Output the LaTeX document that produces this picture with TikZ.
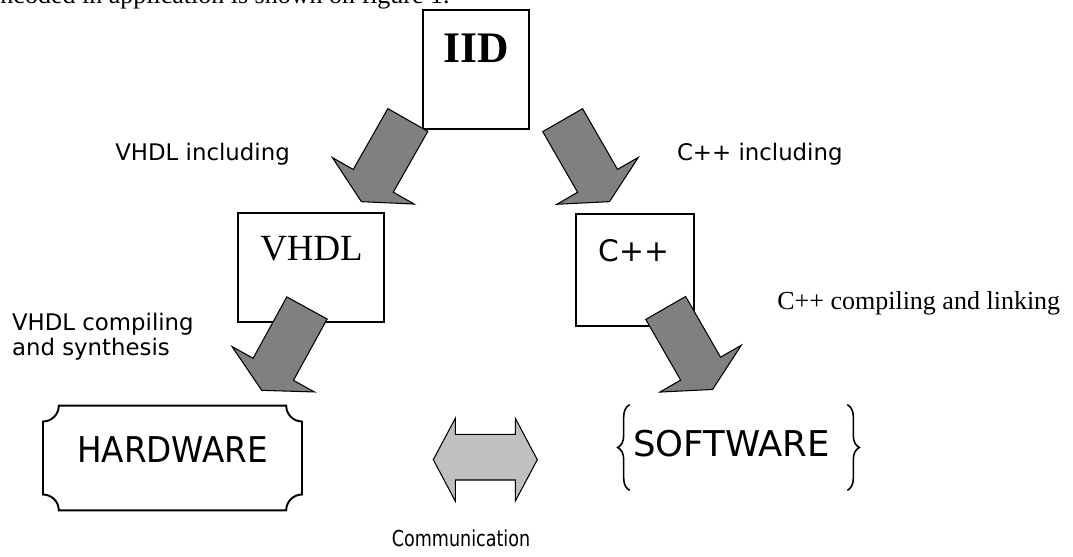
\documentclass[tikz,border=0pt]{standalone}
\usepackage{fontspec}
\setmainfont{Liberation Serif}
\newfontfamily\labelfont{DejaVu Sans}
\newfontfamily\plaquefont[FakeStretch=0.92]{DejaVu Sans}
\newfontfamily\narrowfont[FakeStretch=0.8]{DejaVu Sans}
\usetikzlibrary{calc, positioning, decorations.pathreplacing}

\definecolor{arrowgray}{HTML}{808080}
\definecolor{commgray}{HTML}{C0C0C0}

\tikzset{
  box/.style={
    rectangle, draw=black, fill=white, line width=1.1pt, inner sep=0pt,
  },
  steplabel/.style={
    font=\labelfont\fontsize{13}{14.2}\selectfont, inner sep=0pt, align=left,
  },
  serifnote/.style={
    font=\fontsize{14.8}{17}\selectfont, inner sep=0pt,
  },
  bigword/.style={
    font=\plaquefont\fontsize{20.2}{24}\selectfont, inner sep=0pt,
  },
  plaque/.style={
    rectangle, draw=none, inner sep=0pt,
  },
  frame/.style={
    line width=1.1pt, draw=black, line join=miter,
  },
  bracepath/.style={
    line width=0.9pt, draw=black,
    decorate, decoration={brace, amplitude=6.8pt},
  },
  commarrow/.style={
    draw=black, fill=commgray, line width=0.6pt, line join=miter,
  },
  pics/fatarrow/.style={
    code={
      \draw[fill=arrowgray, line width=0.6pt, line join=miter]
        (0,-23) -- (70,-23) -- (70,-47) -- (94,0) -- (70,47) -- (70,23)
        -- (0,23) -- cycle;
    }
  },
}

\begin{document}
\begin{tikzpicture}[x=0.02cm, y=-0.02cm]

  \useasboundingbox (0,0) rectangle (1073,556);
  \clip (0,0) rectangle (1073,556);

  % cut-off line of the page text above the figure
  \node[serifnote, anchor=base east] (caption) at (450,3.5)
    {encoded in application is shown on figure 1.};

  % boxes
  \node[box, minimum width=2.12cm, minimum height=2.38cm] (iid) at (476,69.5) {};
  \node[box, minimum width=2.914cm, minimum height=2.168cm] (vhdl) at (311.2,267.5) {};
  \node[box, minimum width=2.366cm, minimum height=2.24cm] (cpp) at (634.9,270) {};

  \node[anchor=base, inner sep=0pt, font=\bfseries\fontsize{24.8}{28}\selectfont]
    (iidtext) at (476,62) {IID};
  \node[anchor=base, inner sep=0pt, font=\fontsize{21}{24}\selectfont]
    (vhdltext) at (311.5,260) {VHDL};
  \node[anchor=base, inner sep=0pt, font=\labelfont\fontsize{16.9}{20}\selectfont]
    (cpptext) at (633.8,261.7) {C++};

  % fat arrows
  \pic[rotate=240.4] at ($(iid.south west)+(-14.2,-10)$) {fatarrow};
  \pic[rotate=299.9] at ($(iid.south east)+(32.7,-9.8)$) {fatarrow};
  \pic[rotate=241.2] at ($(vhdl.south)+(-4.2,-14.7)$) {fatarrow};
  \pic[rotate=299.9] at ($(cpp.south east)+(-29.3,-19)$) {fatarrow};

  % step labels
  \node[steplabel, anchor=base west] (incl1) at (115,160.7) {VHDL including};
  \node[steplabel, anchor=base west] (incl2) at (676.7,160.7) {C++ including};
  \node[steplabel, anchor=base west] (comp1) at (11.7,355) {VHDL compiling\\and synthesis};
  \node[serifnote, anchor=base west] (comp2) at (777,309) {C++ compiling and linking};

  % hardware plaque
  \node[plaque, minimum width=5.168cm, minimum height=2.08cm] (hw) at (172.5,458) {};
  \draw[frame]
    ($(hw.north west)+(0,-9pt)$) arc[start angle=270, end angle=360, radius=9pt]
    -- ($(hw.north east)+(-9pt,0)$) arc[start angle=180, end angle=270, radius=9pt]
    -- ($(hw.south east)+(0,9pt)$) arc[start angle=90, end angle=180, radius=9pt]
    -- ($(hw.south west)+(9pt,0)$) arc[start angle=0, end angle=90, radius=9pt]
    -- cycle;
  \node[bigword, anchor=base] (hwtext) at (172.7,462.7) {HARDWARE};

  % software braces
  \node[plaque, minimum width=4.34cm, minimum height=1.7cm] (sw) at (738.5,447.5) {};
  \draw[bracepath] (sw.south west) -- (sw.north west);
  \draw[bracepath] (sw.north east) -- (sw.south east);
  \node[bigword, font=\labelfont\fontsize{20.2}{24}\selectfont, anchor=base]
    (swtext) at (731.5,456.7) {SOFTWARE};

  % communication arrow
  \coordinate (comm) at (485.3,459.7);
  \draw[commarrow]
    ($(comm)+(-52,0)$) -- ($(comm)+(-30,-41.4)$) -- ($(comm)+(-30,-25.4)$)
    -- ($(comm)+(30,-25.4)$) -- ($(comm)+(30,-41.4)$) -- ($(comm)+(52,0)$)
    -- ($(comm)+(30,41.4)$) -- ($(comm)+(30,20.3)$) -- ($(comm)+(-30,20.3)$)
    -- ($(comm)+(-30,41.4)$) -- cycle;
  \node[steplabel, font=\narrowfont\fontsize{12.5}{14}\selectfont, anchor=base]
    (commtext) at (461,546) {Communication};

\end{tikzpicture}
\end{document}
